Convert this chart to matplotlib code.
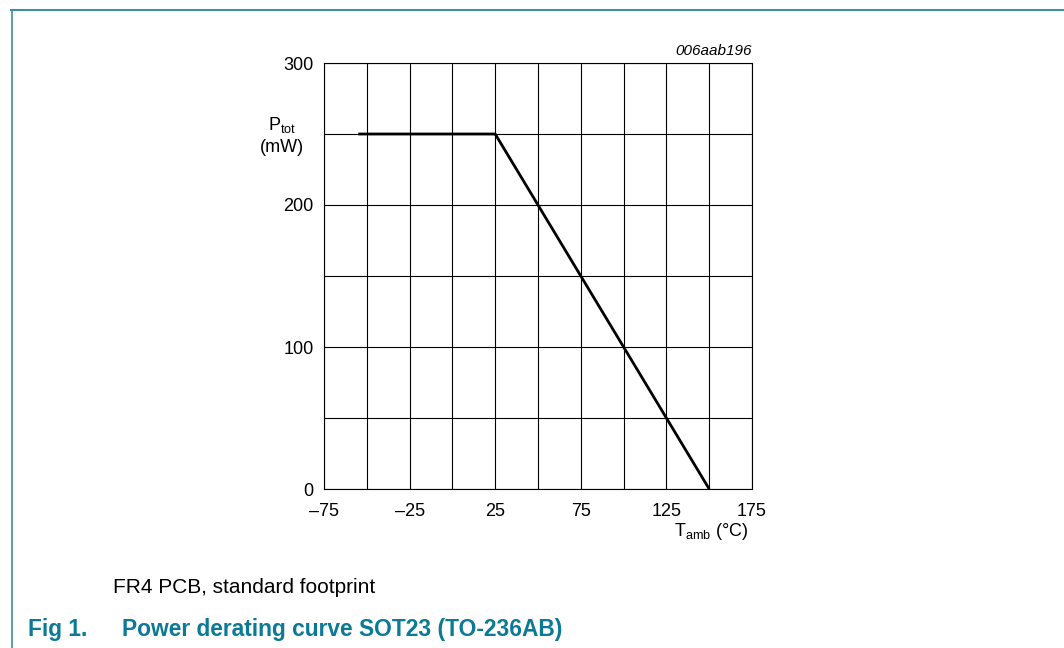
import matplotlib
matplotlib.use("Agg")
import matplotlib.pyplot as plt
from matplotlib.lines import Line2D

plt.rcParams['font.family'] = ['Liberation Sans', 'DejaVu Sans']
plt.rcParams['mathtext.fontset'] = 'custom'
plt.rcParams['mathtext.rm'] = 'Liberation Sans'

# derating curve points
temp = [-55, 25, 150]
power = [250, 250, 0]

x_ticks = [-75, -25, 25, 75, 125, 175]
x_labels = ['\u201375', '\u201325', '25', '75', '125', '175']
y_ticks = [0, 100, 200, 300]

teal = '#0b7a96'
W, H = 1064, 648

fig = plt.figure(figsize=(W / 100, H / 100), dpi=100)
ax = fig.add_axes([324 / W, 1 - 489 / H, 428 / W, 426 / H])

ax.plot(temp, power, color='black', lw=2.0, solid_capstyle='butt', zorder=3)

ax.set_xlim(-75, 175)
ax.set_ylim(0, 300)
ax.set_xticks(range(-75, 176, 25), minor=True)
ax.set_yticks(range(0, 301, 50), minor=True)
ax.set_xticks(x_ticks)
ax.set_xticklabels(x_labels)
ax.set_yticks(y_ticks)
ax.grid(True, which='both', color='black', lw=0.8)
ax.tick_params(which='both', length=0, labelsize=13)
ax.tick_params(axis='x', pad=10)
ax.tick_params(axis='y', pad=7.5)
for s in ax.spines.values():
    s.set_linewidth(0.8)

ax.text(1.0, 1.012, '006aab196', transform=ax.transAxes, ha='right', va='bottom',
        fontsize=11, style='italic')
fig.text(282 / W, 1 - 125 / H, r'$\mathregular{P_{tot}}$', ha='center', va='center', fontsize=13)
fig.text(282 / W, 1 - 148 / H, '(mW)', ha='center', va='center', fontsize=13)
fig.text(748 / W, 1 - 531 / H, r'$\mathregular{T_{amb}}$ (°C)', ha='right', va='center', fontsize=13)

fig.text(113 / W, 1 - 593 / H, 'FR4 PCB, standard footprint', ha='left', va='baseline', fontsize=15)
fig.text(28 / W, 1 - 636 / H, 'Fig 1.', ha='left', va='baseline', fontsize=16.4,
         weight='bold', color=teal)
fig.text(122 / W, 1 - 636 / H, 'Power derating curve SOT23 (TO-236AB)', ha='left', va='baseline',
         fontsize=16.4, weight='bold', color=teal)

# page frame lines
fig.add_artist(Line2D([11 / W, 1], [1 - 9.5 / H, 1 - 9.5 / H], color='#3f8ea3', lw=1.5))
fig.add_artist(Line2D([11.5 / W, 11.5 / W], [0, 1 - 9.5 / H], color='#3f8ea3', lw=1.2))

fig.savefig('out.png', dpi=100)
